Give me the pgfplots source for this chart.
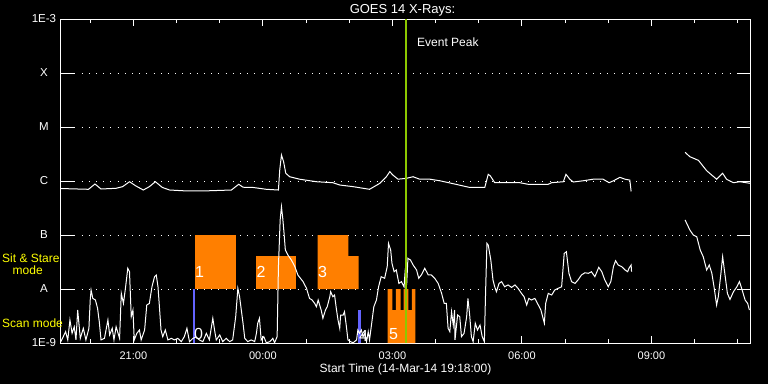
\documentclass[border=0pt]{standalone}
\usepackage{fontspec}
\setmainfont{Liberation Sans}
\usepackage{pgfplots}
\pgfplotsset{compat=1.18}
\definecolor{orng}{RGB}{255,127,0}
\definecolor{evgreen}{RGB}{140,200,0}
\definecolor{scanblue}{RGB}{100,100,255}
\definecolor{ylw}{RGB}{255,255,0}
\begin{document}
\begin{tikzpicture}
\path[use as bounding box] (0,0) rectangle (768bp,384bp);
\fill[black] (0,0) rectangle (768bp,384bp);
% y ticks, labels and dotted grid
\begin{axis}[
  ymode=log,
  at={(60bp,41bp)}, anchor=south west, scale only axis,
  width=690.7bp, height=324bp,
  xmin=19.3, xmax=35.3, ymin=1e-9, ymax=1e-3,
  axis line style={white, line width=1bp},
  tick style={white, line width=1bp},
  tick align=inside,
  xtick=\empty, xminorticks=false, yminorticks=false,
  ytick={1e-9,1e-8,1e-7,1e-6,1e-5,1e-4,1e-3},
  yticklabels={1E-9,A,B,C,M,X,1E-3},
  major tick length=14bp,
  ymajorgrids,
  major grid style={white, line width=1bp, dash pattern=on 1bp off 6.2bp},
  yticklabel style={text=white, anchor=center, xshift=-16bp, font=\fontsize{11.5bp}{13bp}\selectfont},
]
\addplot[draw=none] coordinates {(20,1e-6)};
\end{axis}
% data, x ticks
\begin{axis}[
  ymode=log,
  at={(60bp,41bp)}, anchor=south west, scale only axis,
  width=690.7bp, height=324bp,
  xmin=19.3, xmax=35.3, ymin=1e-9, ymax=1e-3,
  axis line style={white, line width=1bp},
  tick style={white, line width=1bp},
  tick align=inside,
  ytick=\empty, yminorticks=false,
  xtick={21,24,27,30,33},
  xticklabels={21:00,00:00,03:00,06:00,09:00},
  minor xtick={20,22,23,25,26,28,29,31,32,34,35},
  major tick length=7bp, minor tick length=4bp,
  xticklabel style={text=white, anchor=base, yshift=-16bp, font=\fontsize{11bp}{13bp}\selectfont},
]
% observation boxes
\addplot[fill=orng, draw=none] coordinates {(22.42,1e-8) (22.42,1e-7) (23.37,1e-7) (23.37,1e-8)};
\addplot[fill=orng, draw=none] coordinates {(23.83,1e-8) (23.83,4.08e-8) (24.77,4.08e-8) (24.77,1e-8)};
\addplot[fill=orng, draw=none] coordinates {(25.27,1e-8) (25.27,1e-7) (25.98,1e-7) (25.98,4.08e-8) (26.22,4.08e-8) (26.22,1e-8)};
\addplot[fill=orng, draw=none] coordinates {(26.89,1e-9) (26.89,1e-8) (27.00,1e-8) (27.00,4.08e-9) (27.08,4.08e-9) (27.08,1e-8) (27.19,1e-8) (27.19,4.08e-9) (27.26,4.08e-9) (27.26,1e-8) (27.37,1e-8) (27.37,4.08e-9) (27.45,4.08e-9) (27.45,1e-8) (27.53,1e-8) (27.53,1e-9)};
\addplot[fill=scanblue, draw=none] coordinates {(22.38,1e-9) (22.38,1e-8) (22.42,1e-8) (22.42,1e-9)};
\addplot[fill=scanblue, draw=none] coordinates {(26.20,1e-9) (26.20,4.08e-9) (26.27,4.08e-9) (26.27,1e-9)};
% long channel
\addplot[white, line width=1bp, mark=none] coordinates {
(19.31,7.26e-7) (19.96,7.02e-7) (20.11,8.80e-7) (20.25,7.11e-7) (20.60,7.33e-7)
(20.75,7.86e-7) (20.91,9.70e-7) (21.06,8.08e-7) (21.23,6.81e-7) (21.37,7.86e-7)
(21.51,9.70e-7) (21.67,7.60e-7) (21.84,6.81e-7) (22.15,6.60e-7) (22.76,6.60e-7)
(23.27,6.81e-7) (23.44,8.70e-7) (23.54,7.67e-7) (23.77,7.60e-7) (24.08,7.02e-7)
(24.36,6.81e-7) (24.39,1.60e-6) (24.43,3.03e-6) (24.48,2.27e-6) (24.53,1.39e-6)
(24.62,1.20e-6) (24.85,1.08e-6) (25.24,9.70e-7) (25.62,9.30e-7) (25.78,8.43e-7)
(26.09,7.86e-7) (26.47,7.02e-7) (26.71,9.07e-7) (26.86,1.20e-6) (26.94,1.49e-6)
(27.01,1.29e-6) (27.13,1.08e-6) (27.32,1.12e-6) (27.48,1.20e-6) (27.63,1.08e-6)
(27.87,1.08e-6) (28.10,1.01e-6) (28.44,8.80e-7) (28.79,7.60e-7) (29.14,7.60e-7)
(29.22,1.33e-6) (29.27,1.24e-6) (29.37,9.30e-7) (29.95,9.30e-7) (30.14,8.70e-7)
(30.61,8.70e-7) (30.69,9.30e-7) (30.96,9.70e-7) (31.02,1.33e-6) (31.11,1.08e-6)
(31.19,9.58e-7) (31.42,1.01e-6) (31.65,1.08e-6) (31.88,1.08e-6) (32.02,9.30e-7)
(32.12,1.01e-6) (32.27,1.17e-6) (32.39,1.08e-6) (32.50,1.04e-6) (32.53,6.40e-7)
};
\addplot[white, line width=1bp, mark=none] coordinates {
(33.78,3.40e-6) (33.89,2.82e-6) (34.09,2.41e-6) (34.28,1.55e-6) (34.51,1.08e-6)
(34.65,1.39e-6) (34.74,1.08e-6) (34.90,9.30e-7) (35.05,9.70e-7) (35.28,9.07e-7)
};
% short channel
\addplot[white, line width=1bp, mark=none] coordinates {
(19.32,1.06e-9) (19.43,1.62e-9) (19.48,1.14e-9) (19.53,2.67e-9) (19.58,1.51e-9)
(19.63,2.00e-9) (19.67,1.14e-9) (19.71,4.08e-9) (19.77,1.22e-9) (19.84,1.87e-9)
(19.90,1.14e-9) (19.97,1.87e-9) (20.00,6.26e-9) (20.02,9.58e-9) (20.06,6.70e-9)
(20.12,6.26e-9) (20.17,4.40e-9) (20.21,2.48e-9) (20.25,1.14e-9) (20.33,1.22e-9)
(20.41,2.67e-9) (20.45,1.41e-9) (20.51,1.87e-9) (20.55,1.14e-9) (20.60,2.00e-9)
(20.68,1.22e-9) (20.72,8.30e-9) (20.77,5.40e-9) (20.82,1.10e-8) (20.87,2.42e-8)
(20.91,2.09e-8) (20.95,3.07e-9) (20.99,4.08e-9) (21.02,1.14e-9) (21.08,1.51e-9)
(21.14,1.74e-9) (21.18,1.14e-9) (21.26,1.74e-9) (21.31,5.06e-9) (21.37,5.40e-9)
(21.43,1.10e-8) (21.49,1.69e-8) (21.53,1.82e-8) (21.57,1.10e-8) (21.60,5.06e-9)
(21.64,1.74e-9) (21.68,1.31e-9) (21.74,1.74e-9) (21.80,1.14e-9) (21.88,1.22e-9)
(21.95,1.14e-9) (22.03,1.22e-9) (22.11,1.06e-9) (22.18,1.31e-9) (22.24,1.87e-9)
(22.30,1.06e-9) (22.38,1.22e-9) (22.45,1.30e-9) (22.53,1.14e-9) (22.61,1.06e-9)
(22.69,1.51e-9) (22.76,1.14e-9) (22.84,2.87e-9) (22.88,1.74e-9) (22.92,1.14e-9)
(23.00,1.41e-9) (23.07,1.06e-9) (23.15,1.22e-9) (23.23,1.06e-9) (23.30,1.14e-9)
(23.37,3.07e-9) (23.42,1.03e-8) (23.46,7.20e-9) (23.50,4.08e-9) (23.54,2.32e-9)
(23.58,1.22e-9) (23.65,1.06e-9) (23.73,1.14e-9) (23.81,1.06e-9) (23.85,1.51e-9)
(23.88,2.32e-9) (23.92,2.87e-9) (23.96,1.14e-9) (24.02,1.31e-9) (24.08,1.01e-9)
(24.16,1.06e-9) (24.23,1.22e-9) (24.27,1.01e-9) (24.33,1.31e-9) (24.36,2.60e-8)
(24.40,1.90e-7) (24.43,3.34e-7) (24.46,2.04e-7) (24.49,1.08e-7) (24.52,5.28e-8)
(24.58,4.26e-8) (24.66,3.44e-8) (24.74,2.60e-8) (24.81,1.82e-8) (24.93,1.37e-8)
(25.01,1.03e-8) (25.08,6.70e-9) (25.14,6.26e-9) (25.20,5.40e-9) (25.24,4.70e-9)
(25.28,6.26e-9) (25.35,4.08e-9) (25.39,2.87e-9) (25.45,4.08e-9) (25.49,4.70e-9)
(25.55,7.20e-9) (25.57,8.90e-9) (25.62,7.20e-9) (25.66,7.74e-9) (25.70,4.40e-9)
(25.74,2.67e-9) (25.78,1.87e-9) (25.80,3.30e-9) (25.86,3.30e-9) (25.89,3.80e-9)
(25.93,2.15e-9) (25.97,1.14e-9) (26.03,1.06e-9) (26.09,1.01e-9) (26.17,1.14e-9)
(26.20,1.74e-9) (26.24,1.51e-9) (26.28,1.74e-9) (26.32,1.31e-9) (26.36,1.51e-9)
(26.40,1.06e-9) (26.44,1.62e-9) (26.47,1.14e-9) (26.53,2.67e-9) (26.57,4.70e-9)
(26.63,6.26e-9) (26.68,1.10e-8) (26.74,1.69e-8) (26.82,1.58e-8) (26.88,2.60e-8)
(26.91,7.00e-8) (26.96,5.28e-8) (26.99,2.99e-8) (27.04,2.09e-8) (27.09,2.25e-8)
(27.15,1.27e-8) (27.21,1.37e-8) (27.27,1.10e-8) (27.30,2.42e-8) (27.33,1.19e-8)
(27.36,3.70e-8) (27.42,3.44e-8) (27.48,2.78e-8) (27.56,2.25e-8) (27.61,1.58e-8)
(27.67,1.82e-8) (27.75,2.42e-8) (27.83,1.82e-8) (27.90,1.82e-8) (27.98,1.58e-8)
(28.06,1.27e-8) (28.14,8.30e-9) (28.20,5.40e-9) (28.25,5.40e-9) (28.29,1.87e-9)
(28.33,1.62e-9) (28.37,3.80e-9) (28.41,2.15e-9) (28.44,4.08e-9) (28.45,1.14e-9)
(28.51,3.30e-9) (28.56,3.07e-9) (28.60,1.31e-9) (28.66,1.51e-9) (28.72,3.07e-9)
(28.75,6.70e-9) (28.79,3.30e-9) (28.83,1.31e-9) (28.87,1.06e-9) (28.92,2.32e-9)
(28.97,1.74e-9) (29.03,2.15e-9) (29.08,1.31e-9) (29.13,1.06e-9) (29.16,9.58e-9)
(29.19,7.00e-8) (29.22,6.53e-8) (29.28,3.44e-8) (29.33,1.47e-8) (29.37,1.10e-8)
(29.41,8.90e-9) (29.47,1.27e-8) (29.53,1.37e-8) (29.60,1.10e-8) (29.68,1.19e-8)
(29.76,1.07e-8) (29.84,1.19e-8) (29.91,1.03e-8) (29.99,8.30e-9) (30.05,7.20e-9)
(30.11,5.06e-9) (30.16,6.70e-9) (30.22,6.26e-9) (30.30,6.70e-9) (30.38,5.06e-9)
(30.44,4.08e-9) (30.52,2.32e-9) (30.55,5.40e-9) (30.61,8.30e-9) (30.69,7.74e-9)
(30.76,9.58e-9) (30.84,1.03e-8) (30.92,1.10e-8) (30.98,4.55e-8) (31.03,4.90e-8)
(31.09,1.95e-8) (31.15,1.37e-8) (31.23,1.27e-8) (31.30,1.47e-8) (31.38,1.82e-8)
(31.46,2.00e-8) (31.54,1.95e-8) (31.61,2.09e-8) (31.69,1.69e-8) (31.78,2.52e-8)
(31.85,2.09e-8) (31.92,1.47e-8) (32.00,1.10e-8) (32.06,1.37e-8) (32.12,2.60e-8)
(32.17,3.34e-8) (32.23,2.78e-8) (32.31,2.60e-8) (32.39,2.25e-8) (32.45,2.09e-8)
(32.48,2.42e-8) (32.53,2.78e-8) (32.54,2.09e-8)
};
\addplot[white, line width=1bp, mark=none] coordinates {
(33.78,1.90e-7) (33.89,1.24e-7) (33.97,1.00e-7) (34.05,9.30e-8) (34.13,5.28e-8)
(34.20,3.97e-8) (34.28,2.25e-8) (34.34,2.78e-8) (34.40,1.95e-8) (34.45,1.10e-8)
(34.51,5.06e-9) (34.55,7.20e-9) (34.61,1.95e-8) (34.65,3.97e-8) (34.70,1.95e-8)
(34.76,8.30e-9) (34.82,6.40e-9) (34.90,8.90e-9) (34.98,1.10e-8) (35.04,1.37e-8)
(35.09,1.03e-8) (35.17,6.26e-9) (35.23,5.40e-9) (35.27,4.08e-9)
};
% event peak
\addplot[evgreen, line width=2bp, mark=none] coordinates {(27.325,1e-9) (27.325,1e-3)};
\end{axis}
% texts
\begin{scope}[every node/.style={inner sep=0}]
\node[anchor=base, text=white, font=\fontsize{13bp}{15bp}\selectfont] at (402.5bp,370bp) {GOES 14 X-Rays:};
\node[anchor=base, text=white, font=\fontsize{12bp}{14bp}\selectfont] at (405.5bp,12bp) {Start Time (14-Mar-14 19:18:00)};
\node[anchor=base west, text=white, font=\fontsize{12bp}{14bp}\selectfont] at (417bp,337bp) {Event Peak};
\node[anchor=base west, text=ylw, font=\fontsize{12bp}{14bp}\selectfont] at (2bp,121bp) {Sit \& Stare};
\node[anchor=base west, text=ylw, font=\fontsize{12bp}{14bp}\selectfont] at (12.5bp,109bp) {mode};
\node[anchor=base west, text=ylw, font=\fontsize{12bp}{14bp}\selectfont] at (2bp,56bp) {Scan mode};
\foreach \t/\x/\y in {1/199.5/112, 2/261/112, 3/322.5/112, 0/198.5/50.5, 4/363.5/48.5, 5/393.5/49.5}
  \node[text=white, font=\fontsize{16bp}{18bp}\selectfont] at (\x bp,\y bp) {\t};
\end{scope}
\end{tikzpicture}
\end{document}
